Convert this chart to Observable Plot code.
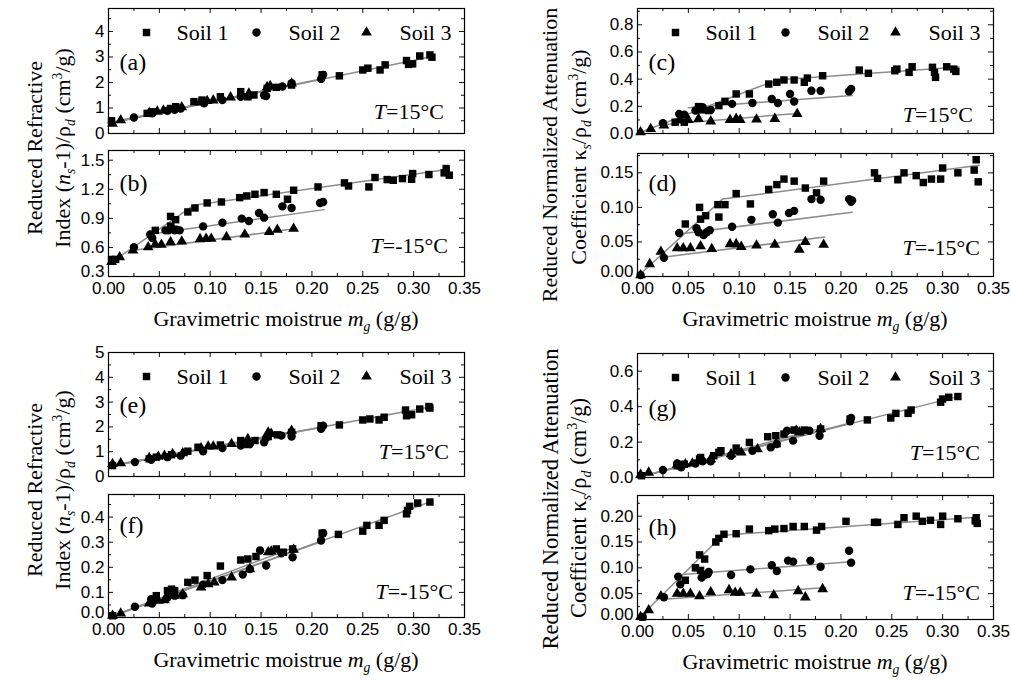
<!DOCTYPE html>
<html><head><meta charset="utf-8">
<script src="https://cdn.jsdelivr.net/npm/d3@7"></script>
<script src="https://cdn.jsdelivr.net/npm/@observablehq/plot@0.6"></script>
<style>
body{margin:0;background:#fff;}
#root{position:relative;width:1011px;height:682px;overflow:hidden;background:#fff;font-family:"Liberation Serif","Times New Roman",serif;color:#000;}
.panel{position:absolute;}
.lab{position:absolute;white-space:nowrap;font-size:22px;line-height:1;}
.rot{transform:translate(-50%,-50%) rotate(-90deg);}
.ctr{transform:translate(-50%,0);}
.tl{transform:translate(-100%,-50%);}
sub,sup{font-size:0.62em;line-height:0;}
</style></head><body><div id="root"></div>
<script>
// ---------- tick values ----------
const X_MAJOR = [0, 0.05, 0.10, 0.15, 0.20, 0.25, 0.30, 0.35];
const X_MINOR = [0.025, 0.075, 0.125, 0.175, 0.225, 0.275, 0.325];
const SOILS = ["Soil 1", "Soil 2", "Soil 3"];

// ---------- (a) refractive, T=15 ----------
const a_s1 = [[0.003,0.5],[0.038,0.79],[0.043,0.85],[0.061,0.98],[0.066,1.05],[0.084,1.25],[0.092,1.31],[0.11,1.44],[0.13,1.64],[0.137,1.44],[0.143,1.51],[0.156,1.77],[0.165,1.81],[0.18,1.9],[0.21,2.3],[0.227,2.26],[0.25,2.49],[0.255,2.56],[0.267,2.49],[0.272,2.69],[0.293,2.86],[0.295,2.71],[0.299,2.73],[0.306,3.04],[0.316,3.08],[0.318,2.99]];
const a_s2 = [[0.025,0.63],[0.043,0.79],[0.058,0.89],[0.065,0.93],[0.071,0.98],[0.094,1.18],[0.112,1.31],[0.13,1.44],[0.138,1.47],[0.153,1.5],[0.155,1.47],[0.171,1.84],[0.18,1.97],[0.209,2.14],[0.211,2.3]];
const a_s3 = [[0.004,0.39],[0.012,0.52],[0.04,0.8],[0.048,0.86],[0.054,0.9],[0.064,0.97],[0.072,1.03],[0.09,1.22],[0.097,1.28],[0.103,1.3],[0.12,1.42],[0.138,1.57],[0.156,1.82],[0.159,1.86],[0.18,1.96]];
const a_f1 = [[0,0.4],[0.316,3.0]];
const a_f2 = [[0,0.42],[0.211,2.16]];
const a_f3 = [[0,0.38],[0.182,1.92]];

// ---------- (b) refractive, T=-15 ----------
const b_s1 = [[0.003,0.476],[0.007,0.476],[0.046,0.776],[0.061,0.82],[0.061,0.92],[0.066,0.886],[0.078,0.966],[0.085,1.007],[0.097,1.059],[0.111,1.069],[0.129,1.114],[0.136,1.131],[0.144,1.148],[0.153,1.166],[0.165,1.148],[0.176,1.097],[0.182,1.19],[0.206,1.224],[0.232,1.266],[0.236,1.234],[0.256,1.224],[0.262,1.321],[0.274,1.3],[0.28,1.293],[0.289,1.31],[0.298,1.303],[0.299,1.362],[0.315,1.352],[0.33,1.369],[0.332,1.414],[0.335,1.345]];
const b_s2 = [[0.025,0.603],[0.041,0.734],[0.043,0.697],[0.056,0.776],[0.059,0.776],[0.062,0.803],[0.065,0.776],[0.067,0.783],[0.07,0.776],[0.093,0.817],[0.112,0.855],[0.131,0.897],[0.138,0.872],[0.148,0.955],[0.153,0.907],[0.171,1.024],[0.18,1.007],[0.208,1.059],[0.211,1.069]];
const b_s3 = [[0.003,0.45],[0.011,0.5],[0.024,0.569],[0.039,0.603],[0.046,0.631],[0.052,0.628],[0.061,0.655],[0.072,0.662],[0.09,0.686],[0.096,0.69],[0.101,0.69],[0.116,0.707],[0.134,0.734],[0.158,0.759],[0.166,0.783],[0.182,0.793]];
const b_f1 = [[0,0.424],[0.0836,1.034],[0.333,1.403]];
const b_f2 = [[0.044,0.741],[0.212,0.99]];
const b_f3 = [[0.023,0.569],[0.183,0.793]];

// ---------- (c) attenuation, T=15 ----------
const c_s1 = [[0.037,0.083],[0.046,0.083],[0.06,0.198],[0.063,0.174],[0.07,0.169],[0.08,0.205],[0.086,0.237],[0.097,0.291],[0.11,0.291],[0.129,0.364],[0.137,0.377],[0.144,0.394],[0.154,0.394],[0.164,0.377],[0.167,0.408],[0.182,0.425],[0.218,0.467],[0.227,0.443],[0.253,0.462],[0.255,0.474],[0.267,0.45],[0.27,0.491],[0.29,0.487],[0.292,0.45],[0.293,0.413],[0.304,0.491],[0.311,0.474],[0.313,0.457]];
const c_s2 = [[0.025,0.076],[0.041,0.144],[0.046,0.139],[0.057,0.169],[0.064,0.193],[0.072,0.174],[0.093,0.218],[0.113,0.225],[0.132,0.254],[0.138,0.225],[0.15,0.291],[0.154,0.235],[0.171,0.315],[0.18,0.315],[0.208,0.31],[0.21,0.328]];
const c_s3 = [[0.003,0.01],[0.013,0.034],[0.026,0.06],[0.042,0.1],[0.05,0.1],[0.06,0.108],[0.072,0.09],[0.091,0.1],[0.097,0.108],[0.101,0.1],[0.117,0.103],[0.135,0.108],[0.157,0.144]];
const c_f1 = [[0,0],[0.118,0.34],[0.132,0.378],[0.147,0.4],[0.316,0.49]];
const c_f2 = [[0.05,0.19],[0.211,0.28]];
const c_f3 = [[0.024,0.065],[0.157,0.148]];

// ---------- (d) attenuation, T=-15 ----------
const d_s1 = [[0.047,0.076],[0.061,0.1],[0.062,0.083],[0.067,0.088],[0.079,0.104],[0.08,0.086],[0.086,0.104],[0.097,0.12],[0.111,0.105],[0.129,0.126],[0.137,0.133],[0.144,0.141],[0.154,0.138],[0.165,0.128],[0.176,0.121],[0.183,0.138],[0.233,0.15],[0.236,0.142],[0.256,0.14],[0.262,0.15],[0.274,0.146],[0.281,0.136],[0.289,0.141],[0.298,0.141],[0.3,0.157],[0.315,0.15],[0.331,0.154],[0.333,0.169],[0.335,0.137]];
const d_s2 = [[0.003,0.002],[0.026,0.027],[0.041,0.063],[0.058,0.07],[0.06,0.064],[0.065,0.06],[0.068,0.064],[0.071,0.067],[0.093,0.072],[0.112,0.082],[0.133,0.09],[0.138,0.078],[0.149,0.092],[0.154,0.095],[0.171,0.112],[0.18,0.111],[0.208,0.112],[0.21,0.108],[0.211,0.11]];
const d_s3 = [[0.003,0.002],[0.012,0.018],[0.023,0.036],[0.039,0.041],[0.045,0.041],[0.052,0.041],[0.062,0.044],[0.073,0.04],[0.091,0.047],[0.097,0.047],[0.102,0.043],[0.117,0.045],[0.135,0.046],[0.159,0.039],[0.165,0.05],[0.183,0.046]];
const d_f1 = [[0,0],[0.0836,0.112],[0.336,0.161]];
const d_f2 = [[0.039,0.061],[0.211,0.093]];
const d_f3 = [[0.025,0.028],[0.184,0.057]];

// ---------- (e) refractive, T=15 ----------
const e_s1 = [[0.004,0.44],[0.04,0.71],[0.047,0.78],[0.062,0.88],[0.078,1.02],[0.088,1.18],[0.11,1.27],[0.13,1.45],[0.137,1.29],[0.144,1.45],[0.157,1.61],[0.166,1.68],[0.18,1.78],[0.209,2.05],[0.227,2.08],[0.25,2.28],[0.257,2.32],[0.266,2.28],[0.271,2.39],[0.292,2.68],[0.293,2.45],[0.298,2.49],[0.306,2.72],[0.315,2.82],[0.316,2.76]];
const e_s2 = [[0.026,0.58],[0.042,0.67],[0.058,0.78],[0.071,0.84],[0.093,1.02],[0.112,1.15],[0.13,1.25],[0.139,1.31],[0.153,1.38],[0.155,1.55],[0.17,1.65],[0.18,1.61],[0.209,1.92],[0.211,2.05]];
const e_s3 = [[0.004,0.51],[0.012,0.54],[0.04,0.75],[0.049,0.8],[0.055,0.84],[0.063,0.91],[0.073,0.94],[0.091,1.14],[0.098,1.21],[0.103,1.21],[0.121,1.31],[0.137,1.51],[0.157,1.78],[0.16,1.72],[0.18,1.85]];
const e_f1 = [[0,0.4],[0.316,2.8]];
const e_f2 = [[0,0.4],[0.211,2.0]];
const e_f3 = [[0,0.42],[0.182,1.82]];

// ---------- (f) refractive, T=-15 ----------
const f_s1 = [[0.004,0.007],[0.047,0.087],[0.058,0.107],[0.062,0.113],[0.065,0.107],[0.078,0.14],[0.085,0.149],[0.097,0.167],[0.11,0.205],[0.13,0.229],[0.137,0.233],[0.145,0.243],[0.165,0.273],[0.172,0.26],[0.181,0.273],[0.21,0.336],[0.226,0.331],[0.25,0.344],[0.254,0.367],[0.266,0.367],[0.271,0.387],[0.293,0.413],[0.294,0.427],[0.296,0.443],[0.304,0.456],[0.316,0.46]];
const f_s2 = [[0.026,0.043],[0.042,0.073],[0.043,0.056],[0.058,0.08],[0.065,0.087],[0.073,0.089],[0.093,0.131],[0.112,0.149],[0.132,0.171],[0.139,0.193],[0.149,0.267],[0.155,0.207],[0.17,0.256],[0.181,0.24],[0.209,0.307],[0.211,0.336]];
const f_s3 = [[0.004,0.007],[0.012,0.016],[0.04,0.056],[0.049,0.067],[0.055,0.069],[0.065,0.087],[0.073,0.093],[0.091,0.12],[0.098,0.133],[0.104,0.14],[0.121,0.16],[0.139,0.193],[0.157,0.26],[0.16,0.263],[0.182,0.27]];
const f_f1 = [[0,0],[0.316,0.46]];
const f_f2 = [[0,0],[0.211,0.305]];
const f_f3 = [[0,0],[0.183,0.28]];

// ---------- (g) attenuation, T=15 ----------
const g_s1 = [[0.004,0.01],[0.039,0.066],[0.046,0.075],[0.061,0.104],[0.062,0.113],[0.075,0.123],[0.08,0.142],[0.082,0.151],[0.097,0.166],[0.11,0.198],[0.128,0.23],[0.136,0.236],[0.144,0.245],[0.154,0.268],[0.164,0.268],[0.18,0.274],[0.209,0.33],[0.226,0.325],[0.249,0.336],[0.254,0.362],[0.266,0.362],[0.269,0.381],[0.298,0.425],[0.3,0.443],[0.306,0.453],[0.315,0.457]];
const g_s2 = [[0.025,0.042],[0.039,0.079],[0.043,0.057],[0.057,0.079],[0.064,0.091],[0.072,0.091],[0.092,0.123],[0.113,0.151],[0.131,0.17],[0.137,0.189],[0.147,0.264],[0.153,0.208],[0.169,0.264],[0.179,0.236],[0.209,0.317],[0.21,0.336]];
const g_s3 = [[0.003,0.015],[0.011,0.028],[0.039,0.072],[0.047,0.075],[0.054,0.079],[0.064,0.098],[0.072,0.104],[0.092,0.132],[0.098,0.147],[0.102,0.142],[0.118,0.16],[0.136,0.189],[0.156,0.264],[0.159,0.255],[0.18,0.274]];
const g_f1 = [[0,0],[0.316,0.458]];
const g_f2 = [[0,0],[0.211,0.31]];
const g_f3 = [[0,0],[0.183,0.282]];

// ---------- (h) attenuation, T=-15 ----------
const h_s1 = [[0.005,0.005],[0.047,0.076],[0.057,0.1],[0.061,0.125],[0.066,0.117],[0.062,0.095],[0.077,0.15],[0.08,0.157],[0.085,0.165],[0.097,0.166],[0.11,0.175],[0.129,0.172],[0.135,0.175],[0.144,0.176],[0.153,0.18],[0.164,0.18],[0.176,0.173],[0.181,0.18],[0.205,0.19],[0.233,0.188],[0.236,0.188],[0.256,0.184],[0.262,0.197],[0.274,0.2],[0.28,0.19],[0.288,0.192],[0.298,0.184],[0.3,0.2],[0.315,0.195],[0.333,0.197],[0.332,0.191],[0.334,0.186]];
const h_s2 = [[0.005,0.005],[0.026,0.043],[0.04,0.083],[0.042,0.068],[0.063,0.081],[0.066,0.086],[0.069,0.088],[0.07,0.092],[0.092,0.086],[0.111,0.097],[0.132,0.105],[0.137,0.094],[0.148,0.114],[0.153,0.112],[0.17,0.114],[0.18,0.102],[0.208,0.133],[0.21,0.11]];
const h_s3 = [[0.003,0.005],[0.011,0.018],[0.023,0.045],[0.039,0.05],[0.045,0.05],[0.052,0.05],[0.061,0.045],[0.072,0.053],[0.09,0.057],[0.096,0.052],[0.101,0.052],[0.117,0.05],[0.134,0.047],[0.158,0.055],[0.165,0.043],[0.182,0.059]];
const h_f1 = [[0,0],[0.0836,0.163],[0.333,0.198]];
const h_f2 = [[0.044,0.087],[0.21,0.112]];
const h_f3 = [[0.026,0.039],[0.185,0.062]];

// ---------- y ticks per panel ----------
const yt_a = [0,1,2,3,4], ym_a = [0.5,1.5,2.5,3.5,4.5];
const yt_b = [0.3,0.6,0.9,1.2,1.5], ym_b = [0.45,0.75,1.05,1.35];
const yt_c = [0,0.2,0.4,0.6,0.8], ym_c = [0.1,0.3,0.5,0.7,0.9];
const yt_d = [0,0.05,0.10,0.15], ym_d = [0.025,0.075,0.125,0.175];
const yt_e = [0,1,2,3,4,5], ym_e = [0.5,1.5,2.5,3.5,4.5];
const yt_f = [0,0.1,0.2,0.3,0.4], ym_f = [0.05,0.15,0.25,0.35,0.45];
const yt_g = [0,0.2,0.4,0.6], ym_g = [0.1,0.3,0.5];
const yt_h = [0,0.05,0.10,0.15,0.20], ym_h = [0.025,0.075,0.125,0.175,0.225];

const SERIF = "'Liberation Serif','Times New Roman',serif";
const SANS = "'Liberation Sans',Arial,sans-serif";

const panels = [
  {id:"a", frame:[108,8,464,133], dom:[0,4.9], yt:yt_a, ym:ym_a, fmt:"d", s:[a_s1,a_s2,a_s3], f:[a_f1,a_f2,a_f3], legend:true, xl:false, ldy:54, T:"=15°C", tr:20, tb:21},
  {id:"b", frame:[108,150,464,276], dom:[0.3,1.6], yt:yt_b, ym:ym_b, fmt:".1f", s:[b_s1,b_s2,b_s3], f:[b_f1,b_f2,b_f3], legend:false, xl:true, ldy:33, T:"=-15°C", tr:16, tb:30},
  {id:"c", frame:[637,8,993,133], dom:[0,0.92], yt:yt_c, ym:ym_c, fmt:".1f", s:[c_s1,c_s2,c_s3], f:[c_f1,c_f2,c_f3], legend:true, xl:false, ldy:54, T:"=15°C", tr:20, tb:18},
  {id:"d", frame:[637,153,993,276], dom:[0,0.178], yt:yt_d, ym:ym_d, fmt:".2f", s:[d_s1,d_s2,d_s3], f:[d_f1,d_f2,d_f3], legend:false, xl:true, ldy:30, T:"=-15°C", tr:13, tb:28},
  {id:"e", frame:[108,352,464,476], dom:[0,5], yt:yt_e, ym:ym_e, fmt:"d", s:[e_s1,e_s2,e_s3], f:[e_f1,e_f2,e_f3], legend:true, xl:false, ldy:53, T:"=15°C", tr:15, tb:24},
  {id:"f", frame:[108,494,464,617], dom:[0,0.49], yt:yt_f, ym:ym_f, fmt:".1f", s:[f_s1,f_s2,f_s3], f:[f_f1,f_f2,f_f3], legend:false, xl:true, ldy:31, T:"=-15°C", tr:11, tb:25},
  {id:"g", frame:[637,353,993,477], dom:[0,0.7], yt:yt_g, ym:ym_g, fmt:".1f", s:[g_s1,g_s2,g_s3], f:[g_f1,g_f2,g_f3], legend:true, xl:false, ldy:55, T:"=15°C", tr:13, tb:24},
  {id:"h", frame:[637,495,993,619], dom:[0,0.24], yt:yt_h, ym:ym_h, fmt:".2f", s:[h_s1,h_s2,h_s3], f:[h_f1,h_f2,h_f3], legend:false, xl:true, ldy:32, T:"=-15°C", tr:13, tb:26}
];

const root = document.getElementById("root");
const SYM = ["square","circle","triangle"];
const RR = [4.2, 4.2, 4.0];

function addLabel(html, cls, left, top, size) {
  const d = document.createElement("div");
  d.className = "lab " + cls;
  d.innerHTML = html;
  d.style.left = left + "px";
  d.style.top = top + "px";
  if (size) d.style.fontSize = size + "px";
  root.appendChild(d);
  return d;
}

for (const p of panels) {
  const [L, T, R, B] = p.frame;
  const W = R - L, H = B - T;
  const mL = 60, mR = 24, mT = 3, mB = p.xl ? 30 : 3;
  const ink = "#111";
  const fmt = d3.format(p.fmt);
  const marks = [];
  p.f.forEach(f => marks.push(Plot.line(f, {x: d => d[0], y: d => d[1], stroke: "#8c8c8c", strokeWidth: 1.5})));
  p.s.forEach((s, i) => marks.push(Plot.dot(s, {x: d => d[0], y: d => d[1], symbol: SYM[i], r: RR[i], fill: "#000", stroke: "none"})));
  marks.push(
    Plot.ruleX(X_MAJOR, {insetTop: H - 5, stroke: ink}),
    Plot.ruleX(X_MAJOR, {insetBottom: H - 5, stroke: ink}),
    Plot.ruleX(X_MINOR, {insetTop: H - 3, stroke: ink}),
    Plot.ruleX(X_MINOR, {insetBottom: H - 3, stroke: ink}),
    Plot.ruleY(p.yt, {insetRight: W - 5, stroke: ink}),
    Plot.ruleY(p.yt, {insetLeft: W - 5, stroke: ink}),
    Plot.ruleY(p.ym.filter(v => v < p.dom[1]), {insetRight: W - 3, stroke: ink}),
    Plot.ruleY(p.ym.filter(v => v < p.dom[1]), {insetLeft: W - 3, stroke: ink}),
    Plot.frame({stroke: "#000", strokeWidth: 1.2}),
    Plot.text(["(" + p.id + ")"], {frameAnchor: "top-left", dx: 11, dy: p.ldy, text: d => d, fontSize: 24, fontFamily: SERIF, textAnchor: "start", lineAnchor: "middle"})
  );
  if (p.xl) {
    // lowest y label lifted slightly so it clears the first x label in the corner
    marks.push(Plot.axisY({ticks: p.yt.slice(1), tickSize: 0, tickPadding: 4, tickFormat: fmt, label: null, fontSize: 17}));
    marks.push(Plot.axisY({ticks: p.yt.slice(0, 1), tickSize: 0, tickPadding: 4, tickFormat: fmt, label: null, fontSize: 17, dy: -5}));
    marks.push(Plot.axisX({ticks: X_MAJOR, tickSize: 0, tickPadding: 5, tickFormat: d3.format(".2f"), label: null, fontSize: 17}));
  } else {
    marks.push(Plot.axisY({ticks: p.yt, tickSize: 0, tickPadding: 4, tickFormat: fmt, label: null, fontSize: 17}));
  }
  if (p.legend) {
    const symDx = [38, 148, 258], txtDx = [68, 180, 291];
    SOILS.forEach((name, i) => {
      marks.push(Plot.dot([name], {frameAnchor: "top-left", dx: symDx[i], dy: 24, symbol: SYM[i], r: RR[i], fill: "#000"}));
      marks.push(Plot.text([name], {frameAnchor: "top-left", dx: txtDx[i], dy: 24, text: d => d, fontSize: 22, fontFamily: SERIF, textAnchor: "start", lineAnchor: "middle"}));
    });
  }
  const chart = Plot.plot({
    width: W + mL + mR, height: H + mT + mB,
    marginLeft: mL, marginRight: mR, marginTop: mT, marginBottom: mB,
    x: {domain: [0, 0.35], axis: null},
    y: {domain: p.dom, axis: null},
    style: {fontFamily: SANS, fontSize: "17px", background: "transparent", overflow: "visible", color: "#000"},
    marks
  });
  chart.classList.add("panel");
  chart.style.left = (L - mL) + "px";
  chart.style.top = (T - mT) + "px";
  root.appendChild(chart);
  // temperature annotation
  addLabel("<i>T</i>" + p.T, "tl", R - p.tr, B - p.tb);
  if (p.xl) {
    addLabel("Gravimetric moistrue <i>m</i><sub><i>g</i></sub> (g/g)", "ctr", (L + R) / 2, B + 32);
  }
}

// y-axis titles
const Y1_TOP = "Reduced Refractive";
const Y2_TOP = "Index (<i>n</i><sub><i>s</i></sub>-1)/ρ<sub><i>d</i></sub> (cm<sup>3</sup>/g)";
const Y1_ATT = "Reduced Normalized Attenuation";
const Y2_ATT = "Coefficient κ<sub><i>s</i></sub>/ρ<sub><i>d</i></sub> (cm<sup>3</sup>/g)";
addLabel(Y1_TOP, "rot", 35, 148);
addLabel(Y2_TOP, "rot", 63, 148);
addLabel(Y1_TOP, "rot", 35, 490);
addLabel(Y2_TOP, "rot", 63, 490);
addLabel(Y1_ATT, "rot", 550, 155);
addLabel(Y2_ATT, "rot", 579, 157);
addLabel(Y1_ATT, "rot", 551, 499, 22.5);
addLabel(Y2_ATT, "rot", 579, 508, 22.5);
</script></body></html>
